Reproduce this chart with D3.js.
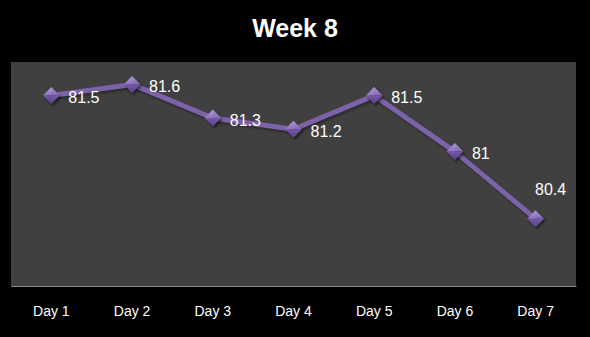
<!DOCTYPE html>
<html><head><meta charset="utf-8">
<script src="https://cdn.jsdelivr.net/npm/d3@7"></script>
<style>html,body{margin:0;padding:0;background:#000;}svg{display:block;}</style>
</head><body>
<script>
const categories = ["Day 1","Day 2","Day 3","Day 4","Day 5","Day 6","Day 7"];
const values = [81.5, 81.6, 81.3, 81.2, 81.5, 81, 80.4];
const labels = ["81.5","81.6","81.3","81.2","81.5","81","80.4"];
const yDomain = [79.8, 81.8];
const title = "Week 8";

const W = 590, H = 337;
const plot = {left: 11, right: 576, top: 62, bottom: 286};
const svg = d3.select("body").append("svg").attr("width", W).attr("height", H);
svg.append("rect").attr("width", W).attr("height", H).attr("fill", "#000");

const defs = svg.append("defs");
const g1 = defs.append("linearGradient").attr("id","dTop").attr("x1",0).attr("y1",0).attr("x2",0).attr("y2",1);
g1.append("stop").attr("offset","0%").attr("stop-color","#a88fd2");
g1.append("stop").attr("offset","100%").attr("stop-color","#8669b8");
const g2 = defs.append("linearGradient").attr("id","dBot").attr("x1",0).attr("y1",0).attr("x2",0).attr("y2",1);
g2.append("stop").attr("offset","0%").attr("stop-color","#7458a6");
g2.append("stop").attr("offset","100%").attr("stop-color","#5a4187");
const blur = defs.append("filter").attr("id","sh").attr("x","-50%").attr("y","-50%").attr("width","200%").attr("height","200%");
blur.append("feGaussianBlur").attr("stdDeviation",1.2);

svg.append("rect").attr("x", plot.left).attr("y", plot.top)
  .attr("width", plot.right - plot.left).attr("height", plot.bottom - plot.top)
  .attr("fill", "#404040");

svg.append("text").attr("x", W/2).attr("y", 37).attr("text-anchor","middle")
  .attr("font-family","'Liberation Sans', Arial, sans-serif").attr("font-weight","bold")
  .attr("font-size", 25).attr("fill","#fff").text(title);

const x = d3.scaleBand().domain(categories).range([plot.left, plot.right]);
const y = d3.scaleLinear().domain(yDomain).range([plot.bottom, plot.top]);
const cx = c => x(c) + x.bandwidth()/2;

const xAxis = d3.axisBottom(x).tickSize(0).tickPadding(20);
const ax = svg.append("g").attr("transform", `translate(0,${plot.bottom})`).call(xAxis);
ax.select(".domain").attr("stroke","#8c8c8c").attr("stroke-width",1.2);
ax.selectAll("text").attr("fill","#fff").attr("font-size",14)
  .attr("font-family","'Liberation Sans', Arial, sans-serif");

const pts = categories.map((c,i)=>({c, v: values[i], l: labels[i], i}));
const line = d3.line().x(d=>cx(d.c)).y(d=>y(d.v));

svg.append("path").datum(pts).attr("d", line).attr("fill","none")
  .attr("stroke","#000").attr("stroke-opacity",0.35).attr("stroke-width",5)
  .attr("transform","translate(1.5,2)").attr("filter","url(#sh)");
svg.append("path").datum(pts).attr("d", line).attr("fill","none")
  .attr("stroke","#7c62a8").attr("stroke-width",5).attr("stroke-linejoin","round");

const r = 8.5;
const mk = svg.selectAll("g.mk").data(pts).enter().append("g")
  .attr("transform", d=>`translate(${cx(d.c)},${y(d.v)})`);
mk.append("path").attr("d",`M0,${-r}L${r},0L0,${r}L${-r},0Z`).attr("fill","#000")
  .attr("opacity",0.5).attr("transform","translate(1.5,2)").attr("filter","url(#sh)");
mk.append("path").attr("d",`M${-r},0L0,${-r}L${r},0Z`).attr("fill","url(#dTop)");
mk.append("path").attr("d",`M${-r},0L0,${r}L${r},0Z`).attr("fill","url(#dBot)");
mk.append("path").attr("d",`M${-r},0L0,${-r}L0,0Z`).attr("fill","#fff").attr("opacity",0.08);

svg.selectAll("text.lbl").data(pts).enter().append("text").attr("class","lbl")
  .attr("x", d => d.i === pts.length-1 ? cx(d.c) + 15 : cx(d.c) + 17)
  .attr("y", d => d.i === pts.length-1 ? y(d.v) - 24 : y(d.v) + 7.5)
  .attr("text-anchor", d => d.i === pts.length-1 ? "middle" : "start")
  .attr("font-family","'Liberation Sans', Arial, sans-serif").attr("font-size",16)
  .attr("fill","#fff").text(d=>d.l);
</script>
</body></html>
